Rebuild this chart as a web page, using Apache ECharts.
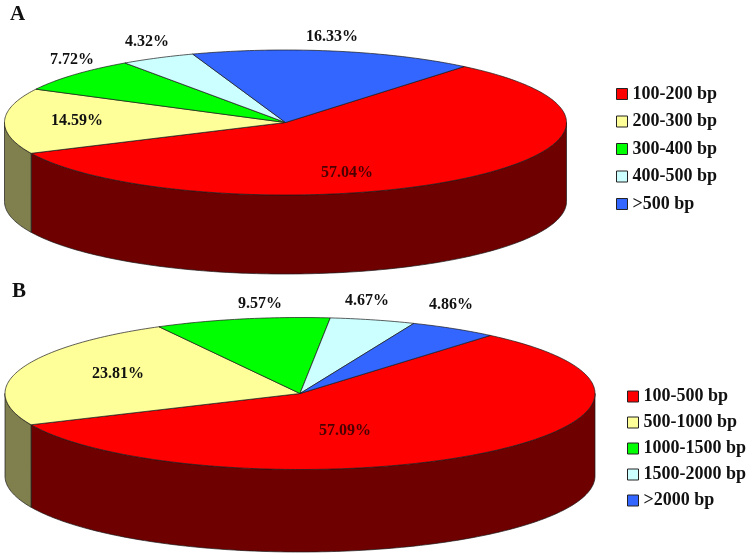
<!DOCTYPE html>
<html>
<head>
<meta charset="utf-8">
<style>
  html, body { margin: 0; padding: 0; background: #fff; }
  #chart { width: 751px; height: 557px; }
</style>
<script src="https://cdn.jsdelivr.net/npm/echarts@6/dist/echarts.min.js"></script>
</head>
<body>
<div id="chart"></div>
<script>
const categoriesA = ["100-200 bp", "200-300 bp", "300-400 bp", "400-500 bp", ">500 bp"];
const valuesA = [57.04, 14.59, 7.72, 4.32, 16.33];
const categoriesB = ["100-500 bp", "500-1000 bp", "1000-1500 bp", "1500-2000 bp", ">2000 bp"];
const valuesB = [57.09, 23.81, 9.57, 4.67, 4.86];
const colorList = ["#ff0000", "#ffff99", "#00ff00", "#ccffff", "#3366ff"];
const sideColors = ["#6e0000", "#80804f", "#008000", "#668080", "#1a3380"];

const FONT = '"Liberation Serif", "Times New Roman", serif';

// 椭圆饼的位置，标签位置都放在这里
const pieA = {
  cx: 285.5, cy: 122.5, rx: 281, ry: 72.5, depth: 79, start: 50.5,
  labels: [[347, 173], [77, 121], [72, 60], [147, 42], [332, 37]]
};
const pieB = {
  cx: 300, cy: 393.5, rx: 295, ry: 76, depth: 82.5, start: 49.8,
  labels: [[345, 431], [118, 374], [260, 304], [367, 301], [451, 305]]
};

function arc(pie, from, to, dy) {
  const pts = [];
  const n = Math.max(2, Math.ceil(Math.abs(to - from)));
  for (let i = 0; i <= n; i++) {
    const a = (from + (to - from) * i / n) * Math.PI / 180;
    pts.push([pie.cx + pie.rx * Math.cos(a), pie.cy - pie.ry * Math.sin(a) + dy]);
  }
  return pts;
}

function buildSeries(pie, categories, values) {
  const total = values.reduce((s, v) => s + v, 0);
  let used = 0;
  return categories.map((name, index) => {
    const before = used;
    used += values[index];
    return {
      type: "custom",
      name: name,
      coordinateSystem: "none",
      silent: true,
      itemStyle: { color: colorList[index] },
      data: [[values[index]]],
      renderItem: (params, api) => {
        const from = pie.start - before / total * 360;
        const to = from - api.value(0) / total * 360;
        const children = [];
        // 只有前半圈才看得到侧面
        const sideFrom = Math.min(from, 0);
        const sideTo = Math.max(to, -180);
        if (sideFrom > sideTo) {
          const top = arc(pie, sideFrom, sideTo, 0);
          const bottom = arc(pie, sideTo, sideFrom, pie.depth);
          children.push({
            type: "polygon",
            shape: { points: top.concat(bottom) },
            style: { fill: sideColors[index], stroke: "#1a1a1a", lineWidth: 0.7 }
          });
        }
        children.push({
          type: "polygon",
          shape: { points: [[pie.cx, pie.cy]].concat(arc(pie, from, to, 0)) },
          style: { fill: colorList[index], stroke: "#1a1a1a", lineWidth: 0.7 }
        });
        children.push({
          type: "text",
          z2: 10,
          style: {
            x: pie.labels[index][0],
            y: pie.labels[index][1],
            text: api.value(0).toFixed(2) + "%",
            align: "center",
            verticalAlign: "middle",
            font: "bold 16px " + FONT,
            fill: index === 0 ? "#4a0000" : "#111"
          }
        });
        return { type: "group", children: children };
      }
    };
  });
}

function buildLegend(data, left, top, gap) {
  return {
    data: data,
    orient: "vertical",
    left: left,
    top: top,
    icon: "rect",
    itemWidth: 11,
    itemHeight: 11,
    itemGap: gap,
    padding: 0,
    selectedMode: false,
    itemStyle: { borderColor: "#222", borderWidth: 1 },
    textStyle: { fontFamily: FONT, fontWeight: "bold", fontSize: 18, color: "#111", padding: 0 }
  };
}

const chart = echarts.init(document.getElementById("chart"));
chart.setOption({
  animation: false,
  backgroundColor: "#fff",
  title: [
    { text: "A", left: 10, top: 4, padding: 0, textStyle: { fontFamily: FONT, fontWeight: "bold", fontSize: 21, color: "#111" } },
    { text: "B", left: 12, top: 281, padding: 0, textStyle: { fontFamily: FONT, fontWeight: "bold", fontSize: 21, color: "#111" } }
  ],
  legend: [
    buildLegend(categoriesA, 616, 85, 9.5),
    buildLegend(categoriesB, 627, 387.5, 8)
  ],
  series: buildSeries(pieA, categoriesA, valuesA).concat(buildSeries(pieB, categoriesB, valuesB))
});
</script>
</body>
</html>
